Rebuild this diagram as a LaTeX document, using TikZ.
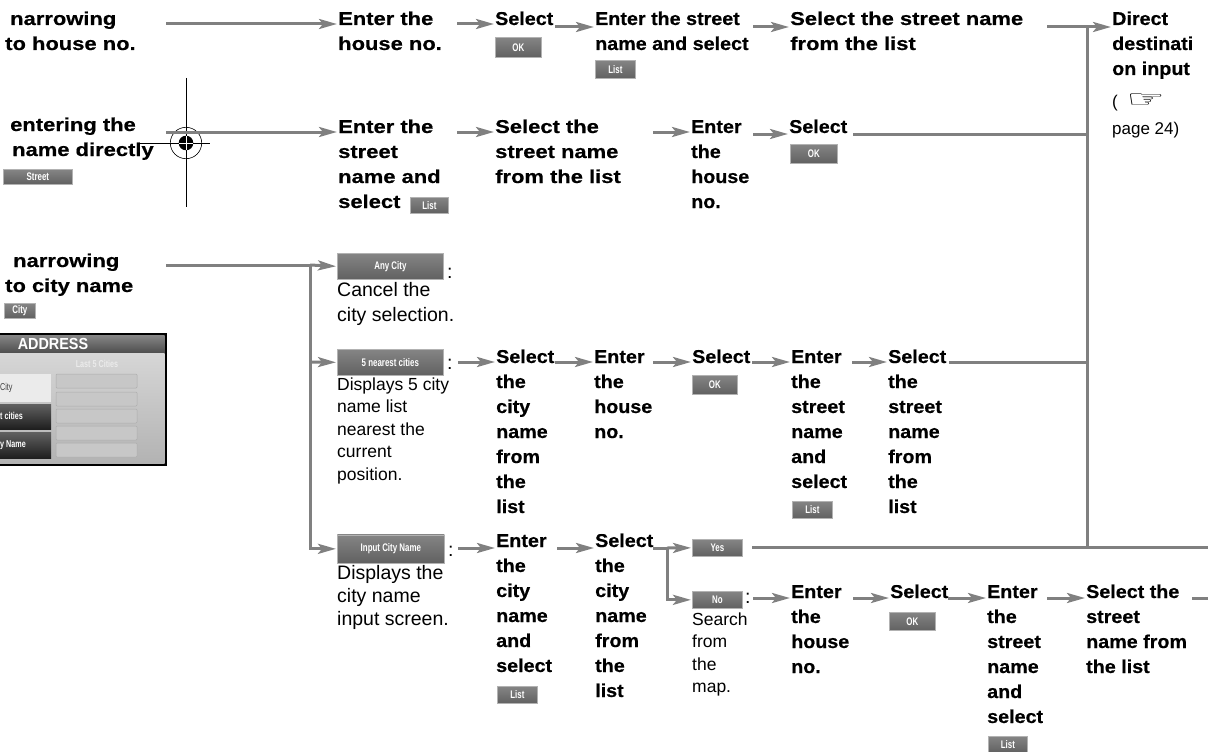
\documentclass[tikz,border=0pt]{standalone}
\usepackage{fontspec}
\setmainfont{Liberation Sans}
\newfontfamily\wideb{Liberation Sans}[FakeStretch=1.18, BoldFeatures={FakeBold=0.5}]
\newfontfamily\narb{Liberation Sans}[FakeStretch=1.06, BoldFeatures={FakeBold=0.5}]
\newfontfamily\btnf{Liberation Sans}[FakeStretch=0.72]
\newfontfamily\scrf{Liberation Sans}[FakeStretch=0.9]
\newfontfamily\symf{DejaVu Sans}
\usetikzlibrary{arrows.meta}
\definecolor{lc}{RGB}{128,128,128}
\newcommand\ml[1]{\begin{tabular}[t]{@{}l@{}}#1\end{tabular}}
\tikzset{
 tw/.style={anchor=base west, inner sep=0pt, font=\wideb\bfseries\fontsize{18.6}{25}\selectfont},
 tn/.style={anchor=base west, inner sep=0pt, font=\narb\bfseries\fontsize{18.6}{25}\selectfont},
 tr/.style={anchor=base west, inner sep=0pt, font=\fontsize{19.5}{25}\selectfont},
 tm/.style={anchor=base west, inner sep=0pt, font=\fontsize{19.5}{23}\selectfont},
 ts/.style={anchor=base west, inner sep=0pt, font=\fontsize{17.5}{22.5}\selectfont},
 btn/.style={anchor=north west, inner sep=0pt, top color=black!48, bottom color=black!62, draw=black!30, line width=0.7pt, text=white, font=\btnf\bfseries\fontsize{11}{11}\selectfont},
 ln/.style={draw=lc, line width=3pt},
 arr/.style={ln, -{Stealth[length=18pt,width=10pt,inset=4pt]}, shorten >=1pt},
 slot/.style={fill=black!22, draw=black!32, line width=0.5pt, rounded corners=1pt},
 scrtxt/.style={inner sep=0pt, font=\btnf\bfseries\fontsize{10}{10}\selectfont},
}
\begin{document}
\begin{tikzpicture}[x=1pt,y=-1pt]
\useasboundingbox (0,0) rectangle (1208,752);

% ---------- left labels ----------
\node[tw] (L1) at (5,25) {\ml{\hspace*{5pt}narrowing\\to house no.}};
\node[tw] (L2) at (10,131) {\ml{entering the\\\hspace*{2pt}name directly}};
\node[btn, minimum width=69pt, minimum height=15pt] (bstreet) at (3,169) {Street};
\node[tw] (L3) at (5,267) {\ml{\hspace*{8pt}narrowing\\to city name}};
\node[btn, minimum width=31pt, minimum height=15pt] (bcity) at (4,303) {City};

% ---------- address screen ----------
\fill[black] (0,333) rectangle (167,466);
\shade[top color=black!48, bottom color=black!70] (0,335.5) rectangle (164.5,353);
\node[font=\scrf\bfseries\fontsize{16}{16}\selectfont, text=white, inner sep=0pt] (addr) at (53,344) {ADDRESS};
\shade[top color=black!16, bottom color=black!30] (0,353) rectangle (164.5,463.5);
\node[scrtxt, text=white!92!black] (last5) at (97,364) {Last 5 Cities};
\fill[black!8] (0,374) rectangle (51,402);
\node[scrtxt, anchor=west, text=black!75, font=\btnf\fontsize{10}{10}\selectfont] (sc1) at (0,388) {City};
\shade[top color=black!62, bottom color=black!88] (0,404) rectangle (51,429);
\node[scrtxt, anchor=west, text=white] (sc2) at (0,416) {t cities};
\shade[top color=black!62, bottom color=black!88] (0,432) rectangle (51,458);
\node[scrtxt, anchor=west, text=white] (sc3) at (0,445) {y Name};
\foreach \ya in {374,392,409,426,443}{\path[slot] (56,\ya) rectangle (137,\ya+14);}

% ---------- registration mark ----------
\draw[black, line width=0.9pt] (140,143) -- (210,143) (186,78) -- (186,207);
\draw[black, line width=0.6pt] (186,143) circle[radius=15.7pt];
\fill[black] (186,143) circle[radius=7.3pt];
\draw[white, line width=0.5pt] (179,143) -- (193,143) (186,136) -- (186,150);

% ---------- row 1 ----------
\node[tw] (E1) at (338,25) {\ml{Enter the\\house no.}};
\node[tn] (S1) at (495,25) {Select};
\node[btn, minimum width=46pt, minimum height=20pt] (ok1) at (495,37) {OK};
\node[tn] (E2) at (595,25) {\ml{Enter the street\\name and select}};
\node[btn, minimum width=40pt, minimum height=18pt] (li1) at (595,60) {List};
\node[tw] (S2) at (790,25) {\ml{Select the street name\\from the list}};
\node[tn] (D) at (1112,25) {\ml{Direct\\destinati\\on input}};
\node[anchor=base west, inner sep=0pt, font=\fontsize{17}{22}\selectfont] (D2) at (1112,107) {(\enspace{\symf\fontsize{24}{24}\selectfont\scalebox{1.8}[1]{☞}}};
\node[anchor=base west, inner sep=0pt, font=\fontsize{17}{22}\selectfont] (D3) at (1112,134) {page 24)};

\coordinate (a1) at (166,24);
\draw[arr] (a1) -- (a1 -| E1.west);
\coordinate (a2) at (457,24);
\draw[arr] (a2) -- (a2 -| S1.west);
\coordinate (a3) at (555,27);
\draw[arr] (a3) -- (a3 -| E2.west);
\coordinate (a4) at (753,27);
\draw[arr] (a4) -- (a4 -| S2.west);
\coordinate (a5) at (1047,27);
\draw[arr] (a5) -- (a5 -| D.west);
\coordinate (vt) at (1087,27);
\coordinate (vb) at (1087,547);
\draw[ln] (vt) -- (vb);

% ---------- row 2 ----------
\node[tw] (E3) at (338,133) {\ml{Enter the\\street\\name and\\select}};
\node[btn, minimum width=38pt, minimum height=16pt] (li2) at (410,197) {List};
\node[tw] (S3) at (495,133) {\ml{Select the\\street name\\from the list}};
\node[tn] (E4) at (691,133) {\ml{Enter\\the\\house\\no.}};
\node[tn] (S4) at (789,133) {Select};
\node[btn, minimum width=47pt, minimum height=19pt] (ok2) at (790,144) {OK};

\coordinate (b1) at (166,132);
\draw[arr] (b1) -- (b1 -| E3.west);
\coordinate (b2) at (457,132);
\draw[arr] (b2) -- (b2 -| S3.west);
\coordinate (b3) at (653,132);
\draw[arr] (b3) -- (b3 -| E4.west);
\coordinate (b4) at (753,134);
\draw[arr] (b4) -- (b4 -| S4.west);
\coordinate (b5) at (853,134);
\draw[ln] (b5) -- (b5 -| vt);

% ---------- row 3 : Any City / 5 nearest ----------
\node[btn, minimum width=106pt, minimum height=26pt] (anyc) at (337,253) {Any City};
\node[tr] (col1) at (447,278) {:};
\node[tr] (canc) at (337,296) {\ml{Cancel the\\city selection.}};
\node[btn, minimum width=106pt, minimum height=26pt] (near) at (337,349) {5 nearest cities};
\node[tr] (col2) at (447,369) {:};
\node[ts] (disp5) at (337,390) {\ml{Displays 5 city\\name list\\nearest the\\current\\position.}};

\node[tn] (S5) at (496,363) {\ml{Select\\the\\city\\name\\from\\the\\list}};
\node[tn] (E5) at (594,363) {\ml{Enter\\the\\house\\no.}};
\node[tn] (S6) at (692,363) {Select};
\node[btn, minimum width=45pt, minimum height=19pt] (ok3) at (692,375) {OK};
\node[tn] (E6) at (791,363) {\ml{Enter\\the\\street\\name\\and\\select}};
\node[btn, minimum width=40pt, minimum height=17pt] (li3) at (792,501) {List};
\node[tn] (S7) at (888,363) {\ml{Select\\the\\street\\name\\from\\the\\list}};

\coordinate (c0) at (166,265);
\coordinate (c1) at (310,265);
\draw[ln] (c0) -- (c1);
\draw[arr] (c1) -- (anyc.west);
\coordinate (c2) at (310,362);
\draw[arr] (c2) -- (near.west);
\coordinate (c3) at (458,362);
\draw[arr] (c3) -- (c3 -| S5.west);
\coordinate (c4) at (555,362);
\draw[arr] (c4) -- (c4 -| E5.west);
\coordinate (c5) at (653,362);
\draw[arr] (c5) -- (c5 -| S6.west);
\coordinate (c6) at (752,362);
\draw[arr] (c6) -- (c6 -| E6.west);
\coordinate (c7) at (852,362);
\draw[arr] (c7) -- (c7 -| S7.west);
\coordinate (c8) at (949,362);
\draw[ln] (c8) -- (c8 -| vt);

% ---------- row 4 : Input City Name ----------
\node[btn, minimum width=107pt, minimum height=28pt] (icn) at (337,534.5) {Input City Name};
\node[tr] (col3) at (448,556) {:};
\node[tm] (dispt) at (337,579) {\ml{Displays the\\city name\\input screen.}};
\node[tn] (E7) at (496,547) {\ml{Enter\\the\\city\\name\\and\\select}};
\node[btn, minimum width=40pt, minimum height=17pt] (li4) at (497,686) {List};
\node[tn] (S8) at (595,547) {\ml{Select\\the\\city\\name\\from\\the\\list}};
\node[btn, minimum width=50pt, minimum height=17pt] (yes) at (692,539) {Yes};
\node[btn, minimum width=50pt, minimum height=17pt] (no) at (692,591) {No};
\node[tr] (col4) at (745,603) {:};
\node[ts] (srch) at (692,625) {\ml{Search\\from\\the\\map.}};
\node[tn] (E8) at (791,598) {\ml{Enter\\the\\house\\no.}};
\node[tn] (S9) at (890,598) {Select};
\node[btn, minimum width=46pt, minimum height=18pt] (ok4) at (889,612) {OK};
\node[tn] (E9) at (987,598) {\ml{Enter\\the\\street\\name\\and\\select}};
\node[btn, minimum width=39pt, minimum height=16pt] (li5) at (988,736) {List};
\node[tn] (S10) at (1086,598) {\ml{Select the\\street\\name from\\the list}};

\draw[arr] (c1) -- (c1 |- icn.west) -- (icn.west);
\coordinate (d1) at (458,548);
\draw[arr] (d1) -- (d1 -| E7.west);
\coordinate (d2) at (557,548);
\draw[arr] (d2) -- (d2 -| S8.west);
\coordinate (d3) at (653,548);
\coordinate (d4) at (667,548);
\draw[ln] (d3) -- (d4);
\draw[arr] (d4) -- (yes.west);
\draw[arr] (d4) -- (d4 |- no.west) -- (no.west);
\coordinate (d5) at (752,547);
\coordinate (d6) at (1208,547);
\draw[ln] (d5) -- (d6);
\coordinate (e1) at (753,598);
\draw[arr] (e1) -- (e1 -| E8.west);
\coordinate (e2) at (853,598);
\draw[arr] (e2) -- (e2 -| S9.west);
\coordinate (e3) at (948,598);
\draw[arr] (e3) -- (e3 -| E9.west);
\coordinate (e4) at (1047,598);
\draw[arr] (e4) -- (e4 -| S10.west);
\coordinate (e5) at (1192,598);
\coordinate (e6) at (1208,598);
\draw[ln] (e5) -- (e6);
\end{tikzpicture}
\end{document}
